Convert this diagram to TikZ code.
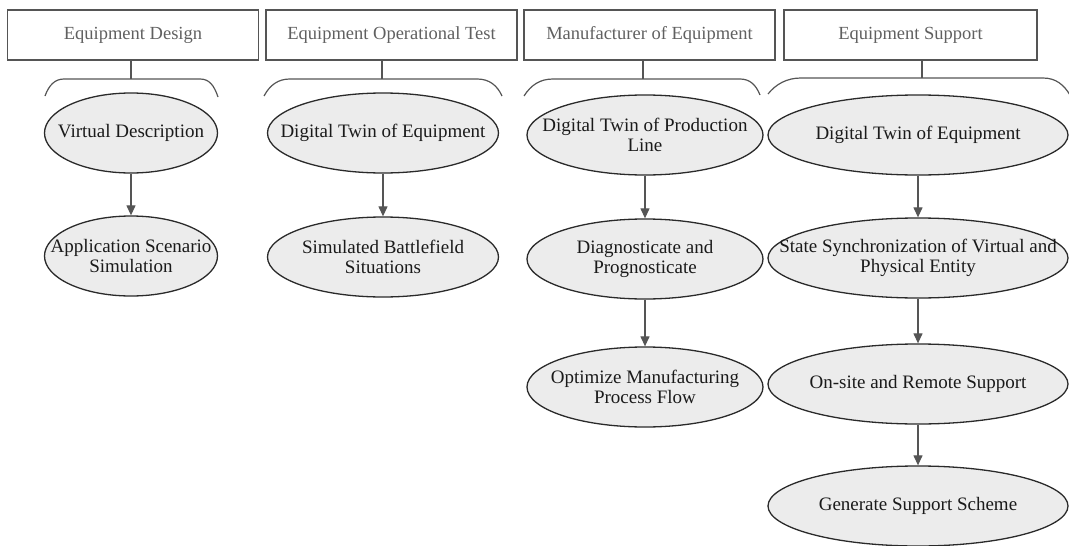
\documentclass[tikz,border=0pt]{standalone}
\usepackage{fontspec}
\setmainfont{Liberation Serif}
\usetikzlibrary{shapes.geometric,arrows.meta}
\definecolor{linegray}{HTML}{555555}
\definecolor{boxtext}{HTML}{606060}
\definecolor{elltext}{HTML}{1A1A1A}
\definecolor{ellfill}{HTML}{ECECEC}
\definecolor{ellline}{HTML}{2A2A2A}
\begin{document}
\begin{tikzpicture}[x=1pt,y=-1pt,
  head/.style={draw=linegray,line width=1.1pt,minimum width=#1,minimum height=50pt,
    inner sep=0pt,font=\rmfamily\fontsize{18.5}{20}\selectfont,text=boxtext},
  head/.default=250pt,
  ell/.style={ellipse,draw=ellline,line width=1.3pt,fill=ellfill,inner sep=0pt,
    minimum height=80pt},
  etext/.style={font=\rmfamily\fontsize{19}{20}\selectfont,text=elltext,align=center,inner sep=0pt},
  link/.style={draw=linegray,line width=1.2pt},
  flow/.style={link,-{Triangle[length=10pt,width=9pt]}},
  bracket/.style={draw=linegray,line width=1.2pt}]
\useasboundingbox (0,0) rectangle (1069,546);

% column headers
\node[head=251pt] (h1) at (133,35) {Equipment Design};
\node[head=251pt] (h2) at (391.5,35) {Equipment Operational Test};
\node[head=251pt] (h3) at (649.5,35) {Manufacturer of Equipment};
\node[head=253pt] (h4) at (910.5,35) {Equipment Support};

% brackets under each header
\coordinate (b1) at (131,79);
\coordinate (b2) at (382,79);
\coordinate (b3) at (643,79);
\coordinate (b4) at (922,78);
\draw[bracket] (45,96) .. controls (49,85) and (55,79) .. (64,79) -- (200,79)
  .. controls (209,79) and (214,85) .. (218,97);
\draw[bracket] (264,96) .. controls (270,85) and (278,79) .. (290,79) -- (477,79)
  .. controls (489,79) and (497,85) .. (502,96);
\draw[bracket] (524,96) .. controls (531,85) and (540,79) .. (553,79) -- (740,79)
  .. controls (750,79) and (756,85) .. (760,95);
\draw[bracket] (768,94) .. controls (776,84) and (787,78) .. (801,78) -- (1043,78)
  .. controls (1056,78) and (1064,85) .. (1070,95);
\draw[link] (h1.south -| b1) -- (b1);
\draw[link] (h2.south -| b2) -- (b2);
\draw[link] (h3.south -| b3) -- (b3);
\draw[link] (h4.south -| b4) -- (b4);

% column 1
\node[ell,minimum width=173pt] (a1) at (131,133) {};
\node[etext] at (a1) {Virtual Description};
\node[ell,minimum width=173pt] (a2) at (131,256) {};
\node[etext] at (a2) {Application Scenario\\Simulation};
\draw[flow] (a1) -- (a2);

% column 2
\node[ell,minimum width=231pt] (c1) at (383,133) {};
\node[etext] at (c1) {Digital Twin of Equipment};
\node[ell,minimum width=231pt] (c2) at (383,257) {};
\node[etext] at (c2) {Simulated Battlefield\\Situations};
\draw[flow] (c1) -- (c2);

% column 3
\node[ell,minimum width=236pt] (m1) at (645,135) {};
\node[etext] at (m1) {Digital Twin of Production\\Line};
\node[ell,minimum width=236pt] (m2) at (645,259) {};
\node[etext] at (m2) {Diagnosticate and\\Prognosticate};
\node[ell,minimum width=236pt] (m3) at (645,387) {};
\node[etext] at (m3) {Optimize Manufacturing\\Process Flow};
\draw[flow] (m1) -- (m2);
\draw[flow] (m2) -- (m3);

% column 4
\node[ell,minimum width=300pt] (s1) at (918,135) {};
\node[etext] at (s1) {Digital Twin of Equipment};
\node[ell,minimum width=300pt] (s2) at (918,258) {};
\node[etext] at (s2) {State Synchronization of Virtual and\\Physical Entity};
\node[ell,minimum width=300pt] (s3) at (918,384) {};
\node[etext] at (s3) {On-site and Remote Support};
\node[ell,minimum width=300pt] (s4) at (918,506) {};
\node[etext] at (s4) {Generate Support Scheme};
\draw[flow] (s1) -- (s2);
\draw[flow] (s2) -- (s3);
\draw[flow] (s3) -- (s4);
\end{tikzpicture}
\end{document}
